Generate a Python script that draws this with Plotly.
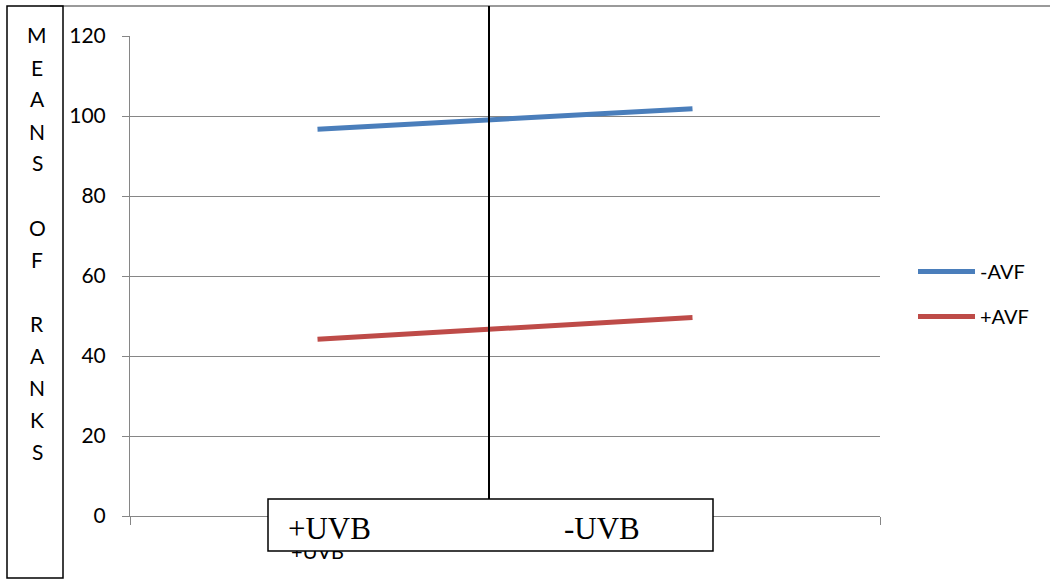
import plotly.graph_objects as go

# Means of ranks for each treatment combination
uvb_levels = ["+UVB", "-UVB"]
minus_avf = [96.7, 101.8]
plus_avf = [44.2, 49.6]
y_ticks = [0, 20, 40, 60, 80, 100, 120]
side_letters = ["M", "E", "A", "N", "S", "", "O", "F", "", "R", "A", "N", "K", "S"]

W, H = 1050, 580
ML, MR, MT, MB = 130, 170, 36, 64
PW, PH = W - ML - MR, H - MT - MB


def px(x):
    return (x - ML) / PW


def py(y):
    return (H - MB - y) / PH


sans = "Lato, 'Open Sans', sans-serif"
serif = "'Liberation Serif', 'DejaVu Serif', serif"

fig = go.Figure()
fig.add_trace(go.Scatter(
    x=uvb_levels, y=minus_avf, name="-AVF", mode="lines",
    line=dict(color="#4a7ebb", width=5), legendgroup="a",
))
fig.add_trace(go.Scatter(
    x=uvb_levels, y=plus_avf, name="+AVF", mode="lines",
    line=dict(color="#be4b48", width=5), legendgroup="b",
))

fig.update_layout(
    width=W, height=H,
    margin=dict(l=ML, r=MR, t=MT, b=MB),
    paper_bgcolor="white", plot_bgcolor="white",
    font=dict(family=sans, size=20, color="black"),
    showlegend=True,
    legend=dict(
        x=px(913), y=py(252), xanchor="left", yanchor="top",
        font=dict(family=sans, size=20, color="black"),
        itemwidth=57, tracegroupgap=16, bgcolor="rgba(0,0,0,0)",
    ),
)

fig.update_xaxes(
    type="category", range=[-0.5, 1.5],
    showgrid=False, showline=True, linecolor="#868686", linewidth=1,
    ticks="outside", ticklen=8, tickcolor="#868686", tickson="boundaries",
    tickvals=uvb_levels, ticktext=["+UVB", ""],
    ticklabelstandoff=18,
    tickfont=dict(family=sans, size=20), fixedrange=True,
)
fig.update_yaxes(
    range=[0, 120], tickvals=y_ticks,
    showgrid=True, gridcolor="#868686", gridwidth=1,
    showline=True, linecolor="#868686", linewidth=1,
    ticks="outside", ticklen=7, tickcolor="#868686",
    ticklabelstandoff=12,
    tickfont=dict(family=sans, size=21), zeroline=False, fixedrange=True,
)

shapes = []
# outer chart frame edge along the top
shapes.append(dict(type="line", xref="paper", yref="paper",
                   x0=px(50), x1=px(1050), y0=py(6), y1=py(6),
                   line=dict(color="#9a9a9a", width=2), layer="above"))
# vertical divider between the two UVB levels
shapes.append(dict(type="line", xref="paper", yref="paper",
                   x0=px(489), x1=px(489), y0=py(6), y1=py(499),
                   line=dict(color="black", width=2), layer="above"))
# side title box
shapes.append(dict(type="rect", xref="paper", yref="paper",
                   x0=px(7), x1=px(63), y0=py(578), y1=py(6),
                   line=dict(color="black", width=1.5),
                   fillcolor="rgba(0,0,0,0)", layer="above"))
# category label box
shapes.append(dict(type="rect", xref="paper", yref="paper",
                   x0=px(268), x1=px(713), y0=py(551), y1=py(499),
                   line=dict(color="black", width=1.5),
                   fillcolor="white", layer="above"))
fig.update_layout(shapes=shapes)

annotations = []
for i, ch in enumerate(side_letters):
    if not ch:
        continue
    annotations.append(dict(
        text=ch, xref="paper", yref="paper", x=px(37), y=py(35 + 32 * i),
        xanchor="center", yanchor="middle", showarrow=False,
        font=dict(family=sans, size=21, color="black"),
    ))
annotations.append(dict(
    text="+UVB", xref="paper", yref="paper", x=px(286), y=py(528),
    xanchor="left", yanchor="middle", showarrow=False,
    font=dict(family=serif, size=31, color="black"),
))
annotations.append(dict(
    text="-UVB", xref="paper", yref="paper", x=px(562), y=py(528),
    xanchor="left", yanchor="middle", showarrow=False,
    font=dict(family=serif, size=31, color="black"),
))
fig.update_layout(annotations=annotations)

fig.write_html("out.html")
